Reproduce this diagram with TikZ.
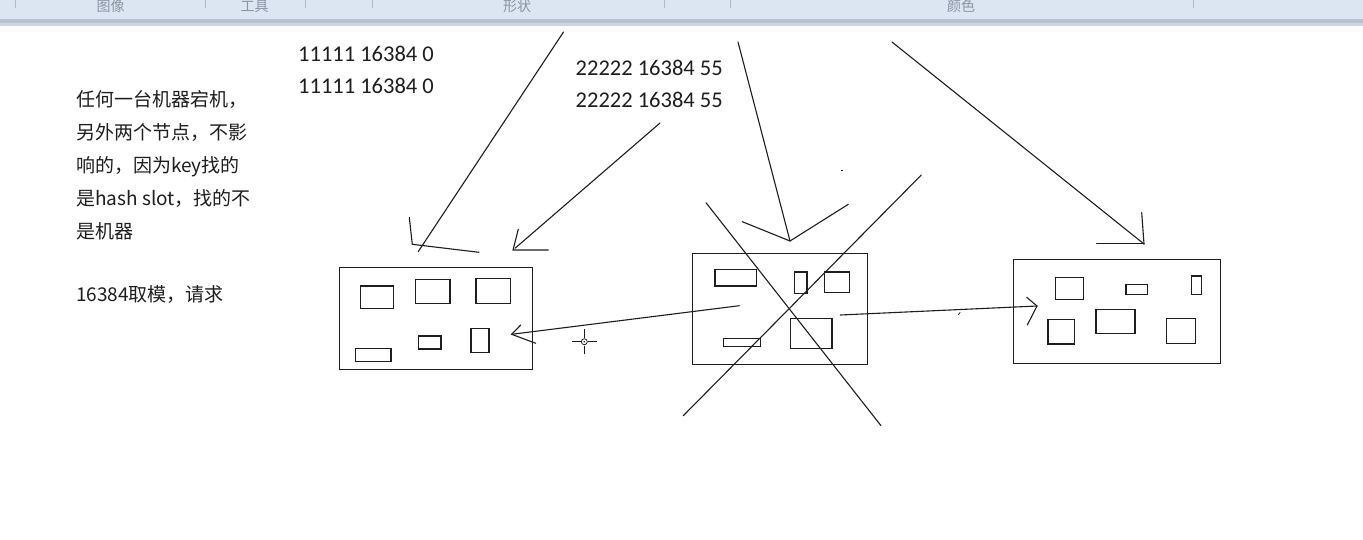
\documentclass[tikz,border=0pt]{standalone}
\usepackage{fontspec}
\setmainfont{Carlito}
\newfontfamily\cjk{Noto Sans CJK SC}
\definecolor{ink}{HTML}{1E1E1E}
\definecolor{barfill}{HTML}{DCE6F3}
\definecolor{barline}{HTML}{B8C3D1}
\definecolor{barsep}{HTML}{AEBACA}
\definecolor{bartext}{HTML}{8A94A2}
\tikzset{
  pen/.style={draw=ink, line width=1.1pt, line cap=round},
  box/.style={draw=ink, line width=1.3pt, inner sep=0pt, anchor=north west},
  slot/.style={draw=ink, line width=1.3pt},
  num/.style={font=\fontsize{22.5}{27}\selectfont, anchor=base west, inner sep=0pt, text=ink},
  note/.style={font=\cjk\fontsize{19}{22}\selectfont, anchor=base west, inner sep=0pt, text=ink},
  tab/.style={font=\cjk\fontsize{14}{16}\selectfont, anchor=base, inner sep=0pt, text=bartext},
  sep/.style={draw=barsep, line width=1pt}
}
\begin{document}
\begin{tikzpicture}[x=1pt,y=-1pt]
\useasboundingbox (0,0) rectangle (1363,539);
\fill[white] (0,0) rectangle (1363,539);
% toolbar
\fill[barfill] (0,0) rectangle (1363,19);
\fill[barline] (0,19) rectangle (1363,23);
\fill[barline!70] (0,23) rectangle (1363,26);
\begin{scope}
  \clip (0,0) rectangle (1363,18.5);
  \node[tab] (t1) at (110.5,11) {图像};
  \node[tab] (t2) at (254.6,11) {工具};
  \node[tab] (t3) at (517,11) {形状};
  \node[tab] (t4) at (961,11) {颜色};
\end{scope}
\foreach \sx in {15,205,305,372,664,730,1193}
  \draw[sep] (\sx,0) -- (\sx,8);

% texts
\node[num] (n1) at (298,61) {11111 16384 0};
\node[num] (n2) at (298,93) {11111 16384 0};
\node[num] (n3) at (575.5,75.5) {22222 16384 55};
\node[num] (n4) at (575.5,107.5) {22222 16384 55};

\node[note] (l1) at (76,106.5) {任何一台机器宕机，};
\node[note] (l2) at (76,139.5) {另外两个节点，不影};
\node[note] (l3) at (76,172.5) {响的，因为key找的};
\node[note] (l4) at (76,205.5) {是hash slot，找的不};
\node[note] (l5) at (76,238.5) {是机器};
\node[note] (l6) at (76,301.5) {16384取模，请求};

% machine boxes
\node[box, minimum width=193pt, minimum height=102pt] (b1) at (339,267) {};
\node[box, minimum width=175pt, minimum height=111pt] (b2) at (692,253) {};
\node[box, minimum width=207pt, minimum height=104pt] (b3) at (1013,259) {};

% slots box 1
\draw[slot] (360.7,286) rectangle (393.3,308.7);
\draw[slot] (415.7,279.3) rectangle (450,303.7);
\draw[slot] (476,278.3) rectangle (510.3,303.7);
\draw[slot] (355.7,348.7) rectangle (391,361.7);
\draw[slot] (418.3,336) rectangle (441,349);
\draw[slot] (471,328.3) rectangle (489,352.7);
% slots box 2
\draw[slot] (715,269.3) rectangle (756.7,286);
\draw[slot] (794.3,272) rectangle (807,293.7);
\draw[slot] (824.3,272) rectangle (849.7,292.3);
\draw[slot] (723.7,338.7) rectangle (760.3,346.3);
\draw[slot] (790.3,318.3) rectangle (832,348.7);
% slots box 3
\draw[slot] (1055.7,277.3) rectangle (1083.7,299.7);
\draw[slot] (1126,284.7) rectangle (1147.7,294.7);
\draw[slot] (1191.7,276) rectangle (1201.7,294.7);
\draw[slot] (1048,319.3) rectangle (1074.7,344);
\draw[slot] (1096,309.7) rectangle (1135,333.7);
\draw[slot] (1166.3,318.3) rectangle (1195.3,343.7);

% connector end points
\coordinate (aS) at (563.5,32);  \coordinate (aE) at (418.3,251.5);
\coordinate (bS) at (660,123);   \coordinate (bE) at (515,248.3);
\coordinate (cS) at (738,42);    \coordinate (cE) at (790,241);
\coordinate (dS) at (892,42);    \coordinate (dE) at (1144,244);
\coordinate (eS) at (739.3,305.7); \coordinate (eE) at (511.7,334.3);
\coordinate (fS) at (840.3,315); \coordinate (fE) at (1037,306);

% hand-drawn arrows
\draw[pen] (aS) -- (aE);
\draw[pen] (409.3,217.3) -- (412.3,244.3) -- (479,252.3);
\draw[pen] (bS) -- (bE);
\draw[pen] (518.3,229.3) -- (513,250) -- (548.3,250);
\draw[pen] (cS) -- (cE);
\draw[pen] (742.3,221.7) -- (cE) -- (848.3,204.3);
\draw[pen] (dS) -- (dE);
\draw[pen] (1141.7,212.7) -- (dE);
\draw[pen] (1096.7,243.3) -- (1144,243.3);
\draw[pen] (eS) -- (eE);
\draw[pen] (520.7,325) -- (eE) -- (535.7,343.3);
\draw[pen] (fS) -- (fE);
\draw[pen] (1026.7,297.3) -- (fE) -- (1027.3,325);
\draw[pen, line width=0.8pt] (958.5,314.5) -- (960,312.5);

% cross over the failed machine
\coordinate (x1) at (706,202.7); \coordinate (x2) at (881,425.7);
\coordinate (x3) at (921.3,175); \coordinate (x4) at (683.3,415.7);
\draw[pen] (x1) -- (x2);
\draw[pen] (x3) -- (x4);

% stray dot
\fill[ink] (840.5,169.5) rectangle (842.5,171);

% cursor crosshair
\coordinate (cur) at (584.3,341.7);
\draw[ink, line width=1pt] (571.7,341.7) -- (580.5,341.7) (588,341.7) -- (596.7,341.7)
  (584.3,329.3) -- (584.3,338) (584.3,345.5) -- (584.3,354.3);
\draw[ink, line width=0.8pt] (cur) circle (3);
\fill[ink] (cur) circle (0.9);
\end{tikzpicture}
\end{document}
